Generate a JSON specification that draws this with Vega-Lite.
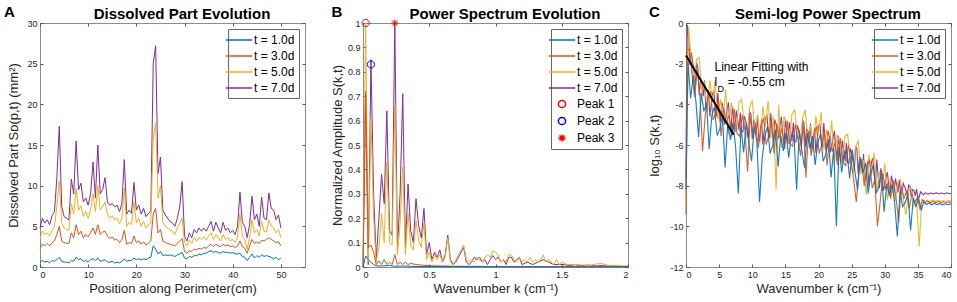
{
"$schema": "https://vega.github.io/schema/vega-lite/v6.json",
"background": "white",
"padding": {"left": 3, "top": 4, "right": 5, "bottom": 3},
"config": {
 "font": "Liberation Sans",
 "view": {"stroke": "#8c8c8c", "strokeWidth": 1},
 "axis": {"grid": false, "domain": false, "ticks": true, "tickSize": -3, "tickColor": "#555", "labelFontSize": 9, "labelColor": "#262626", "labelPadding": 6, "titleFontSize": 13, "titleFontWeight": "normal", "titleColor": "#262626", "labelFont": "Liberation Sans", "titleFont": "Liberation Sans", "labelExpr": "'' + datum.value"},
 "legend": {"title": null, "orient": "top-right", "offset": 6, "fillColor": "white", "strokeColor": "#666", "padding": 4, "labelFontSize": 12, "labelColor": "#000", "labelFont": "Liberation Sans", "symbolType": "M-2.2,0H2.2", "symbolSize": 144, "symbolStrokeWidth": 1.5, "labelOffset": 8, "rowPadding": 3},
 "title": {"fontSize": 15, "fontWeight": "bold", "color": "#000", "font": "Liberation Sans"}
},
"datasets": {
"A": [
{"s":7,"x":0,"y":4.8},{"s":7,"x":0.5,"y":6.0},{"s":7,"x":1,"y":5.4},{"s":7,"x":1.5,"y":5.8},{"s":7,"x":2,"y":5.2},{"s":7,"x":2.5,"y":6.3},{"s":7,"x":3,"y":6.8},{"s":7,"x":3.5,"y":11},{"s":7,"x":4,"y":17.3},{"s":7,"x":4.5,"y":7.5},
{"s":7,"x":5,"y":6.2},{"s":7,"x":5.5,"y":6.0},{"s":7,"x":6,"y":5.8},{"s":7,"x":6.5,"y":10.8},{"s":7,"x":7,"y":9.0},{"s":7,"x":7.5,"y":15.5},{"s":7,"x":8,"y":9.5},{"s":7,"x":8.5,"y":10.3},{"s":7,"x":9,"y":8.0},{"s":7,"x":9.5,"y":8.5},
{"s":7,"x":10,"y":7.6},{"s":7,"x":10.5,"y":9.0},{"s":7,"x":11,"y":12.9},{"s":7,"x":11.5,"y":8.5},{"s":7,"x":12,"y":15.0},{"s":7,"x":12.5,"y":9.0},{"s":7,"x":13,"y":9.5},{"s":7,"x":13.5,"y":11.0},{"s":7,"x":14,"y":8.0},{"s":7,"x":14.5,"y":7.6},
{"s":7,"x":15,"y":7.8},{"s":7,"x":15.5,"y":7.4},{"s":7,"x":16,"y":7.6},{"s":7,"x":16.5,"y":6.8},{"s":7,"x":17,"y":7.8},{"s":7,"x":17.5,"y":13.2},{"s":7,"x":18,"y":6.5},{"s":7,"x":18.5,"y":7.0},{"s":7,"x":19,"y":6.6},{"s":7,"x":19.5,"y":10.4},
{"s":7,"x":20,"y":7.0},{"s":7,"x":20.5,"y":7.6},{"s":7,"x":21,"y":6.5},{"s":7,"x":21.5,"y":7.2},{"s":7,"x":22,"y":6.2},{"s":7,"x":22.5,"y":6.6},{"s":7,"x":23,"y":6.8},{"s":7,"x":23.5,"y":25.0},{"s":7,"x":24,"y":27.2},{"s":7,"x":24.5,"y":11.5},
{"s":7,"x":25,"y":13.5},{"s":7,"x":25.5,"y":7.0},{"s":7,"x":26,"y":6.4},{"s":7,"x":26.5,"y":6.0},{"s":7,"x":27,"y":5.6},{"s":7,"x":27.5,"y":5.4},{"s":7,"x":28,"y":5.0},{"s":7,"x":28.5,"y":6.0},{"s":7,"x":29,"y":7.4},{"s":7,"x":29.5,"y":10.5},
{"s":7,"x":30,"y":3.8},{"s":7,"x":30.5,"y":3.2},{"s":7,"x":31,"y":4.2},{"s":7,"x":31.5,"y":3.6},{"s":7,"x":32,"y":4.6},{"s":7,"x":32.5,"y":4.2},{"s":7,"x":33,"y":4.8},{"s":7,"x":33.5,"y":4.4},{"s":7,"x":34,"y":4.8},{"s":7,"x":34.5,"y":4.4},
{"s":7,"x":35,"y":5.0},{"s":7,"x":35.5,"y":5.6},{"s":7,"x":36,"y":4.4},{"s":7,"x":36.5,"y":5.5},{"s":7,"x":37,"y":4.8},{"s":7,"x":37.5,"y":4.2},{"s":7,"x":38,"y":5.5},{"s":7,"x":38.5,"y":4.5},{"s":7,"x":39,"y":4.8},{"s":7,"x":39.5,"y":4.2},
{"s":7,"x":40,"y":4.5},{"s":7,"x":40.5,"y":4.0},{"s":7,"x":41,"y":5.0},{"s":7,"x":41.5,"y":9.2},{"s":7,"x":42,"y":5.5},{"s":7,"x":42.5,"y":5.0},{"s":7,"x":43,"y":3.6},{"s":7,"x":43.5,"y":5.2},{"s":7,"x":44,"y":8.7},{"s":7,"x":44.5,"y":5.8},
{"s":7,"x":45,"y":6.5},{"s":7,"x":45.5,"y":5.0},{"s":7,"x":46,"y":8.6},{"s":7,"x":46.5,"y":6.0},{"s":7,"x":47,"y":5.8},{"s":7,"x":47.5,"y":9.1},{"s":7,"x":48,"y":7.2},{"s":7,"x":48.5,"y":7.0},{"s":7,"x":49,"y":5.8},{"s":7,"x":49.5,"y":6.4},{"s":7,"x":50,"y":4.8},
{"s":5,"x":0,"y":3.5},{"s":5,"x":0.5,"y":4.4},{"s":5,"x":1,"y":4.0},{"s":5,"x":1.5,"y":4.2},{"s":5,"x":2,"y":3.8},{"s":5,"x":2.5,"y":4.5},{"s":5,"x":3,"y":5.0},{"s":5,"x":3.5,"y":7.5},{"s":5,"x":4,"y":10.6},{"s":5,"x":4.5,"y":5.5},
{"s":5,"x":5,"y":4.8},{"s":5,"x":5.5,"y":4.6},{"s":5,"x":6,"y":4.5},{"s":5,"x":6.5,"y":7.8},{"s":5,"x":7,"y":6.5},{"s":5,"x":7.5,"y":9.7},{"s":5,"x":8,"y":7.0},{"s":5,"x":8.5,"y":7.5},{"s":5,"x":9,"y":6.2},{"s":5,"x":9.5,"y":6.8},
{"s":5,"x":10,"y":6.0},{"s":5,"x":10.5,"y":7.0},{"s":5,"x":11,"y":9.0},{"s":5,"x":11.5,"y":6.8},{"s":5,"x":12,"y":10.0},{"s":5,"x":12.5,"y":7.0},{"s":5,"x":13,"y":7.4},{"s":5,"x":13.5,"y":8.0},{"s":5,"x":14,"y":6.5},{"s":5,"x":14.5,"y":6.0},
{"s":5,"x":15,"y":6.3},{"s":5,"x":15.5,"y":5.8},{"s":5,"x":16,"y":6.0},{"s":5,"x":16.5,"y":5.3},{"s":5,"x":17,"y":6.0},{"s":5,"x":17.5,"y":9.7},{"s":5,"x":18,"y":5.0},{"s":5,"x":18.5,"y":5.5},{"s":5,"x":19,"y":5.2},{"s":5,"x":19.5,"y":8.0},
{"s":5,"x":20,"y":5.4},{"s":5,"x":20.5,"y":6.0},{"s":5,"x":21,"y":5.0},{"s":5,"x":21.5,"y":5.6},{"s":5,"x":22,"y":4.8},{"s":5,"x":22.5,"y":5.2},{"s":5,"x":23,"y":5.4},{"s":5,"x":23.5,"y":15.8},{"s":5,"x":24,"y":17.7},{"s":5,"x":24.5,"y":8.5},
{"s":5,"x":25,"y":10.0},{"s":5,"x":25.5,"y":5.5},{"s":5,"x":26,"y":5.0},{"s":5,"x":26.5,"y":4.8},{"s":5,"x":27,"y":4.5},{"s":5,"x":27.5,"y":4.4},{"s":5,"x":28,"y":4.0},{"s":5,"x":28.5,"y":4.8},{"s":5,"x":29,"y":5.4},{"s":5,"x":29.5,"y":6.0},
{"s":5,"x":30,"y":3.0},{"s":5,"x":30.5,"y":2.6},{"s":5,"x":31,"y":3.3},{"s":5,"x":31.5,"y":2.9},{"s":5,"x":32,"y":3.6},{"s":5,"x":32.5,"y":3.2},{"s":5,"x":33,"y":3.6},{"s":5,"x":33.5,"y":3.4},{"s":5,"x":34,"y":3.7},{"s":5,"x":34.5,"y":3.3},
{"s":5,"x":35,"y":3.8},{"s":5,"x":35.5,"y":4.2},{"s":5,"x":36,"y":3.4},{"s":5,"x":36.5,"y":4.0},{"s":5,"x":37,"y":3.6},{"s":5,"x":37.5,"y":3.2},{"s":5,"x":38,"y":4.0},{"s":5,"x":38.5,"y":3.4},{"s":5,"x":39,"y":3.6},{"s":5,"x":39.5,"y":3.2},
{"s":5,"x":40,"y":3.4},{"s":5,"x":40.5,"y":3.0},{"s":5,"x":41,"y":3.6},{"s":5,"x":41.5,"y":6.5},{"s":5,"x":42,"y":3.8},{"s":5,"x":42.5,"y":3.4},{"s":5,"x":43,"y":2.2},{"s":5,"x":43.5,"y":3.6},{"s":5,"x":44,"y":5.8},{"s":5,"x":44.5,"y":4.2},
{"s":5,"x":45,"y":4.6},{"s":5,"x":45.5,"y":3.8},{"s":5,"x":46,"y":5.6},{"s":5,"x":46.5,"y":4.4},{"s":5,"x":47,"y":4.3},{"s":5,"x":47.5,"y":5.8},{"s":5,"x":48,"y":5.0},{"s":5,"x":48.5,"y":4.8},{"s":5,"x":49,"y":4.2},{"s":5,"x":49.5,"y":4.6},{"s":5,"x":50,"y":3.6},
{"s":3,"x":0,"y":2.3},{"s":3,"x":0.5,"y":2.8},{"s":3,"x":1,"y":2.6},{"s":3,"x":1.5,"y":2.9},{"s":3,"x":2,"y":2.6},{"s":3,"x":2.5,"y":3.0},{"s":3,"x":3,"y":3.2},{"s":3,"x":3.5,"y":4.0},{"s":3,"x":4,"y":5.0},{"s":3,"x":4.5,"y":3.2},
{"s":3,"x":5,"y":3.0},{"s":3,"x":5.5,"y":2.9},{"s":3,"x":6,"y":2.9},{"s":3,"x":6.5,"y":4.2},{"s":3,"x":7,"y":3.6},{"s":3,"x":7.5,"y":5.2},{"s":3,"x":8,"y":4.0},{"s":3,"x":8.5,"y":4.4},{"s":3,"x":9,"y":3.6},{"s":3,"x":9.5,"y":4.0},
{"s":3,"x":10,"y":3.7},{"s":3,"x":10.5,"y":4.2},{"s":3,"x":11,"y":4.8},{"s":3,"x":11.5,"y":4.0},{"s":3,"x":12,"y":5.2},{"s":3,"x":12.5,"y":4.0},{"s":3,"x":13,"y":4.3},{"s":3,"x":13.5,"y":4.4},{"s":3,"x":14,"y":3.8},{"s":3,"x":14.5,"y":3.5},
{"s":3,"x":15,"y":3.7},{"s":3,"x":15.5,"y":3.3},{"s":3,"x":16,"y":3.4},{"s":3,"x":16.5,"y":3.0},{"s":3,"x":17,"y":3.4},{"s":3,"x":17.5,"y":4.5},{"s":3,"x":18,"y":2.8},{"s":3,"x":18.5,"y":3.0},{"s":3,"x":19,"y":2.9},{"s":3,"x":19.5,"y":3.8},
{"s":3,"x":20,"y":3.0},{"s":3,"x":20.5,"y":3.2},{"s":3,"x":21,"y":2.8},{"s":3,"x":21.5,"y":3.1},{"s":3,"x":22,"y":2.7},{"s":3,"x":22.5,"y":2.9},{"s":3,"x":23,"y":3.2},{"s":3,"x":23.5,"y":6.5},{"s":3,"x":24,"y":7.2},{"s":3,"x":24.5,"y":4.2},
{"s":3,"x":25,"y":4.6},{"s":3,"x":25.5,"y":3.2},{"s":3,"x":26,"y":3.0},{"s":3,"x":26.5,"y":2.9},{"s":3,"x":27,"y":2.8},{"s":3,"x":27.5,"y":2.7},{"s":3,"x":28,"y":2.6},{"s":3,"x":28.5,"y":2.9},{"s":3,"x":29,"y":3.2},{"s":3,"x":29.5,"y":3.5},
{"s":3,"x":30,"y":1.9},{"s":3,"x":30.5,"y":1.7},{"s":3,"x":31,"y":2.0},{"s":3,"x":31.5,"y":1.9},{"s":3,"x":32,"y":2.2},{"s":3,"x":32.5,"y":2.1},{"s":3,"x":33,"y":2.3},{"s":3,"x":33.5,"y":2.2},{"s":3,"x":34,"y":2.4},{"s":3,"x":34.5,"y":2.3},
{"s":3,"x":35,"y":2.6},{"s":3,"x":35.5,"y":2.8},{"s":3,"x":36,"y":2.5},{"s":3,"x":36.5,"y":2.8},{"s":3,"x":37,"y":2.6},{"s":3,"x":37.5,"y":2.5},{"s":3,"x":38,"y":2.8},{"s":3,"x":38.5,"y":2.6},{"s":3,"x":39,"y":2.7},{"s":3,"x":39.5,"y":2.5},
{"s":3,"x":40,"y":2.6},{"s":3,"x":40.5,"y":2.4},{"s":3,"x":41,"y":2.6},{"s":3,"x":41.5,"y":3.2},{"s":3,"x":42,"y":2.5},{"s":3,"x":42.5,"y":2.3},{"s":3,"x":43,"y":1.7},{"s":3,"x":43.5,"y":2.6},{"s":3,"x":44,"y":3.4},{"s":3,"x":44.5,"y":2.9},
{"s":3,"x":45,"y":3.1},{"s":3,"x":45.5,"y":2.9},{"s":3,"x":46,"y":3.3},{"s":3,"x":46.5,"y":3.2},{"s":3,"x":47,"y":3.4},{"s":3,"x":47.5,"y":3.6},{"s":3,"x":48,"y":3.4},{"s":3,"x":48.5,"y":3.2},{"s":3,"x":49,"y":3.0},{"s":3,"x":49.5,"y":3.1},{"s":3,"x":50,"y":2.6},
{"s":1,"x":0,"y":0.6},{"s":1,"x":0.5,"y":0.8},{"s":1,"x":1,"y":0.6},{"s":1,"x":1.5,"y":0.7},{"s":1,"x":2,"y":0.5},{"s":1,"x":2.5,"y":0.8},{"s":1,"x":3,"y":0.7},{"s":1,"x":3.5,"y":0.9},{"s":1,"x":4,"y":1.2},{"s":1,"x":4.5,"y":0.7},
{"s":1,"x":5,"y":0.6},{"s":1,"x":5.5,"y":0.6},{"s":1,"x":6,"y":0.5},{"s":1,"x":6.5,"y":0.8},{"s":1,"x":7,"y":0.7},{"s":1,"x":7.5,"y":1.2},{"s":1,"x":8,"y":0.9},{"s":1,"x":8.5,"y":1.0},{"s":1,"x":9,"y":0.7},{"s":1,"x":9.5,"y":0.8},
{"s":1,"x":10,"y":0.6},{"s":1,"x":10.5,"y":0.9},{"s":1,"x":11,"y":1.0},{"s":1,"x":11.5,"y":0.8},{"s":1,"x":12,"y":1.1},{"s":1,"x":12.5,"y":0.7},{"s":1,"x":13,"y":0.8},{"s":1,"x":13.5,"y":0.9},{"s":1,"x":14,"y":0.6},{"s":1,"x":14.5,"y":0.6},
{"s":1,"x":15,"y":0.7},{"s":1,"x":15.5,"y":0.5},{"s":1,"x":16,"y":0.6},{"s":1,"x":16.5,"y":0.5},{"s":1,"x":17,"y":0.7},{"s":1,"x":17.5,"y":1.0},{"s":1,"x":18,"y":0.7},{"s":1,"x":18.5,"y":0.8},{"s":1,"x":19,"y":0.8},{"s":1,"x":19.5,"y":1.1},
{"s":1,"x":20,"y":0.9},{"s":1,"x":20.5,"y":1.0},{"s":1,"x":21,"y":0.9},{"s":1,"x":21.5,"y":1.0},{"s":1,"x":22,"y":0.9},{"s":1,"x":22.5,"y":1.1},{"s":1,"x":23,"y":1.2},{"s":1,"x":23.5,"y":2.6},{"s":1,"x":24,"y":2.2},{"s":1,"x":24.5,"y":1.6},
{"s":1,"x":25,"y":1.9},{"s":1,"x":25.5,"y":1.4},{"s":1,"x":26,"y":1.5},{"s":1,"x":26.5,"y":1.4},{"s":1,"x":27,"y":1.5},{"s":1,"x":27.5,"y":1.4},{"s":1,"x":28,"y":1.3},{"s":1,"x":28.5,"y":1.5},{"s":1,"x":29,"y":1.6},{"s":1,"x":29.5,"y":1.8},
{"s":1,"x":30,"y":1.1},{"s":1,"x":30.5,"y":1.0},{"s":1,"x":31,"y":1.3},{"s":1,"x":31.5,"y":1.2},{"s":1,"x":32,"y":1.4},{"s":1,"x":32.5,"y":1.4},{"s":1,"x":33,"y":1.6},{"s":1,"x":33.5,"y":1.5},{"s":1,"x":34,"y":1.7},{"s":1,"x":34.5,"y":1.7},
{"s":1,"x":35,"y":1.9},{"s":1,"x":35.5,"y":2.0},{"s":1,"x":36,"y":1.8},{"s":1,"x":36.5,"y":1.9},{"s":1,"x":37,"y":1.8},{"s":1,"x":37.5,"y":1.7},{"s":1,"x":38,"y":1.9},{"s":1,"x":38.5,"y":1.8},{"s":1,"x":39,"y":1.8},{"s":1,"x":39.5,"y":1.7},
{"s":1,"x":40,"y":1.8},{"s":1,"x":40.5,"y":1.6},{"s":1,"x":41,"y":1.6},{"s":1,"x":41.5,"y":1.7},{"s":1,"x":42,"y":1.3},{"s":1,"x":42.5,"y":1.2},{"s":1,"x":43,"y":0.8},{"s":1,"x":43.5,"y":1.2},{"s":1,"x":44,"y":1.6},{"s":1,"x":44.5,"y":1.1},
{"s":1,"x":45,"y":1.4},{"s":1,"x":45.5,"y":1.2},{"s":1,"x":46,"y":1.5},{"s":1,"x":46.5,"y":1.3},{"s":1,"x":47,"y":1.4},{"s":1,"x":47.5,"y":1.3},{"s":1,"x":48,"y":1.2},{"s":1,"x":48.5,"y":1.0},{"s":1,"x":49,"y":1.2},{"s":1,"x":49.5,"y":0.9},{"s":1,"x":50,"y":1.1}
],
"B": [
{"s":7,"k":0,"v":0},{"s":7,"k":0.02,"v":0.72},{"s":7,"k":0.04,"v":0.01},{"s":7,"k":0.06,"v":0.85},{"s":7,"k":0.08,"v":0.30},{"s":7,"k":0.10,"v":0.03},{"s":7,"k":0.12,"v":0.20},{"s":7,"k":0.14,"v":0.38},{"s":7,"k":0.16,"v":0.26},{"s":7,"k":0.18,"v":0.64},
{"s":7,"k":0.20,"v":0.15},{"s":7,"k":0.22,"v":0.13},{"s":7,"k":0.24,"v":1.0},{"s":7,"k":0.26,"v":0.07},{"s":7,"k":0.28,"v":0.30},{"s":7,"k":0.30,"v":0.71},{"s":7,"k":0.32,"v":0.08},{"s":7,"k":0.34,"v":0.34},{"s":7,"k":0.36,"v":0.15},{"s":7,"k":0.38,"v":0.10},
{"s":7,"k":0.40,"v":0.28},{"s":7,"k":0.42,"v":0.17},{"s":7,"k":0.44,"v":0.12},{"s":7,"k":0.46,"v":0.24},{"s":7,"k":0.48,"v":0.05},{"s":7,"k":0.50,"v":0.10},{"s":7,"k":0.52,"v":0.03},{"s":7,"k":0.54,"v":0.06},{"s":7,"k":0.56,"v":0.04},{"s":7,"k":0.58,"v":0.07},
{"s":7,"k":0.60,"v":0.02},{"s":7,"k":0.62,"v":0.05},{"s":7,"k":0.64,"v":0.13},{"s":7,"k":0.66,"v":0.03},{"s":7,"k":0.68,"v":0.01},{"s":7,"k":0.70,"v":0.02},{"s":7,"k":0.72,"v":0.04},{"s":7,"k":0.74,"v":0.06},{"s":7,"k":0.76,"v":0.08},{"s":7,"k":0.78,"v":0.02},
{"s":7,"k":0.80,"v":0.01},{"s":7,"k":0.82,"v":0.02},{"s":7,"k":0.84,"v":0.04},{"s":7,"k":0.86,"v":0.03},{"s":7,"k":0.88,"v":0.04},{"s":7,"k":0.90,"v":0.02},{"s":7,"k":0.92,"v":0.03},{"s":7,"k":0.94,"v":0.01},{"s":7,"k":0.96,"v":0.03},{"s":7,"k":0.98,"v":0.047},
{"s":7,"k":1.00,"v":0.03},{"s":7,"k":1.02,"v":0.04},{"s":7,"k":1.04,"v":0.02},{"s":7,"k":1.06,"v":0.03},{"s":7,"k":1.08,"v":0.01},{"s":7,"k":1.10,"v":0.04},{"s":7,"k":1.12,"v":0.04},{"s":7,"k":1.14,"v":0.02},{"s":7,"k":1.16,"v":0.03},{"s":7,"k":1.18,"v":0.04},
{"s":7,"k":1.20,"v":0.01},{"s":7,"k":1.24,"v":0.02},{"s":7,"k":1.28,"v":0.01},{"s":7,"k":1.32,"v":0.02},{"s":7,"k":1.36,"v":0.03},{"s":7,"k":1.40,"v":0.02},{"s":7,"k":1.44,"v":0.01},{"s":7,"k":1.48,"v":0.01},{"s":7,"k":1.52,"v":0.01},{"s":7,"k":1.56,"v":0.005},
{"s":7,"k":1.60,"v":0.01},{"s":7,"k":1.64,"v":0.005},{"s":7,"k":1.70,"v":0.008},{"s":7,"k":1.76,"v":0.004},{"s":7,"k":1.80,"v":0.006},{"s":7,"k":1.86,"v":0.003},{"s":7,"k":1.90,"v":0.004},{"s":7,"k":1.96,"v":0.002},{"s":7,"k":2.0,"v":0.003},
{"s":5,"k":0,"v":0},{"s":5,"k":0.02,"v":1.0},{"s":5,"k":0.04,"v":0.02},{"s":5,"k":0.06,"v":0.61},{"s":5,"k":0.08,"v":0.20},{"s":5,"k":0.10,"v":0.02},{"s":5,"k":0.12,"v":0.08},{"s":5,"k":0.14,"v":0.22},{"s":5,"k":0.16,"v":0.10},{"s":5,"k":0.18,"v":0.43},
{"s":5,"k":0.20,"v":0.10},{"s":5,"k":0.22,"v":0.09},{"s":5,"k":0.24,"v":0.66},{"s":5,"k":0.26,"v":0.05},{"s":5,"k":0.28,"v":0.18},{"s":5,"k":0.30,"v":0.41},{"s":5,"k":0.32,"v":0.05},{"s":5,"k":0.34,"v":0.22},{"s":5,"k":0.36,"v":0.09},{"s":5,"k":0.38,"v":0.07},
{"s":5,"k":0.40,"v":0.19},{"s":5,"k":0.42,"v":0.11},{"s":5,"k":0.44,"v":0.08},{"s":5,"k":0.46,"v":0.18},{"s":5,"k":0.48,"v":0.03},{"s":5,"k":0.50,"v":0.06},{"s":5,"k":0.52,"v":0.02},{"s":5,"k":0.54,"v":0.05},{"s":5,"k":0.56,"v":0.03},{"s":5,"k":0.58,"v":0.05},
{"s":5,"k":0.60,"v":0.02},{"s":5,"k":0.62,"v":0.04},{"s":5,"k":0.64,"v":0.12},{"s":5,"k":0.66,"v":0.02},{"s":5,"k":0.68,"v":0.01},{"s":5,"k":0.70,"v":0.03},{"s":5,"k":0.72,"v":0.05},{"s":5,"k":0.74,"v":0.07},{"s":5,"k":0.76,"v":0.09},{"s":5,"k":0.78,"v":0.03},
{"s":5,"k":0.80,"v":0.02},{"s":5,"k":0.82,"v":0.03},{"s":5,"k":0.84,"v":0.02},{"s":5,"k":0.86,"v":0.04},{"s":5,"k":0.88,"v":0.03},{"s":5,"k":0.90,"v":0.02},{"s":5,"k":0.92,"v":0.04},{"s":5,"k":0.94,"v":0.05},{"s":5,"k":0.96,"v":0.04},{"s":5,"k":0.98,"v":0.067},
{"s":5,"k":1.00,"v":0.06},{"s":5,"k":1.02,"v":0.05},{"s":5,"k":1.04,"v":0.02},{"s":5,"k":1.06,"v":0.03},{"s":5,"k":1.08,"v":0.02},{"s":5,"k":1.10,"v":0.05},{"s":5,"k":1.12,"v":0.05},{"s":5,"k":1.14,"v":0.03},{"s":5,"k":1.16,"v":0.02},{"s":5,"k":1.18,"v":0.04},
{"s":5,"k":1.20,"v":0.02},{"s":5,"k":1.22,"v":0.03},{"s":5,"k":1.24,"v":0.02},{"s":5,"k":1.26,"v":0.04},{"s":5,"k":1.28,"v":0.02},{"s":5,"k":1.30,"v":0.03},{"s":5,"k":1.32,"v":0.02},{"s":5,"k":1.34,"v":0.03},{"s":5,"k":1.36,"v":0.05},{"s":5,"k":1.38,"v":0.02},
{"s":5,"k":1.40,"v":0.03},{"s":5,"k":1.42,"v":0.02},{"s":5,"k":1.44,"v":0.01},{"s":5,"k":1.46,"v":0.03},{"s":5,"k":1.48,"v":0.01},{"s":5,"k":1.50,"v":0.02},{"s":5,"k":1.54,"v":0.01},{"s":5,"k":1.60,"v":0.01},{"s":5,"k":1.66,"v":0.008},{"s":5,"k":1.70,"v":0.005},
{"s":5,"k":1.76,"v":0.012},{"s":5,"k":1.80,"v":0.015},{"s":5,"k":1.84,"v":0.008},{"s":5,"k":1.90,"v":0.005},{"s":5,"k":1.96,"v":0.004},{"s":5,"k":2.0,"v":0.003},
{"s":3,"k":0,"v":0},{"s":3,"k":0.02,"v":0.71},{"s":3,"k":0.04,"v":0.08},{"s":3,"k":0.06,"v":0.09},{"s":3,"k":0.08,"v":0.06},{"s":3,"k":0.10,"v":0.01},{"s":3,"k":0.12,"v":0.025},{"s":3,"k":0.14,"v":0.01},{"s":3,"k":0.16,"v":0.03},{"s":3,"k":0.18,"v":0.01},
{"s":3,"k":0.20,"v":0.02},{"s":3,"k":0.22,"v":0.01},{"s":3,"k":0.24,"v":0.05},{"s":3,"k":0.26,"v":0.01},{"s":3,"k":0.28,"v":0.02},{"s":3,"k":0.30,"v":0.01},{"s":3,"k":0.32,"v":0.02},{"s":3,"k":0.34,"v":0.01},{"s":3,"k":0.36,"v":0.015},{"s":3,"k":0.40,"v":0.01},
{"s":3,"k":0.44,"v":0.008},{"s":3,"k":0.50,"v":0.005},{"s":3,"k":0.60,"v":0.004},{"s":3,"k":0.70,"v":0.003},{"s":3,"k":0.80,"v":0.003},{"s":3,"k":1.0,"v":0.002},{"s":3,"k":1.2,"v":0.002},{"s":3,"k":1.5,"v":0.001},{"s":3,"k":2.0,"v":0.001},
{"s":1,"k":0,"v":0},{"s":1,"k":0.02,"v":0.045},{"s":1,"k":0.04,"v":0.03},{"s":1,"k":0.06,"v":0.02},{"s":1,"k":0.08,"v":0.01},{"s":1,"k":0.10,"v":0.005},{"s":1,"k":0.14,"v":0.004},{"s":1,"k":0.20,"v":0.006},{"s":1,"k":0.24,"v":0.003},{"s":1,"k":0.30,"v":0.004},
{"s":1,"k":0.40,"v":0.002},{"s":1,"k":0.50,"v":0.002},{"s":1,"k":1.0,"v":0.001},{"s":1,"k":2.0,"v":0.001}
],
"P": [
{"s":"Peak 1","k":0.02,"v":1.0},{"s":"Peak 2","k":0.06,"v":0.83},{"s":"Peak 3","k":0.24,"v":1.0}
],
"C": [
{"s":7,"k":0,"v":-7.6},{"s":7,"k":0.2,"v":-0.1},{"s":7,"k":0.6,"v":-2.0},{"s":7,"k":1.0,"v":-1.9},{"s":7,"k":1.4,"v":-3.1},{"s":7,"k":1.8,"v":-2.2},{"s":7,"k":2.2,"v":-2.8},{"s":7,"k":2.6,"v":-3.6},{"s":7,"k":3.0,"v":-4.25},{"s":7,"k":3.4,"v":-3.3},
{"s":7,"k":3.8,"v":-4.0},{"s":7,"k":4.2,"v":-3.35},{"s":7,"k":4.6,"v":-4.6},{"s":7,"k":5.0,"v":-4.3},{"s":7,"k":5.4,"v":-3.9},{"s":7,"k":5.8,"v":-5.0},{"s":7,"k":6.2,"v":-4.25},{"s":7,"k":6.6,"v":-4.85},{"s":7,"k":7.0,"v":-4.1},{"s":7,"k":7.4,"v":-5.35},
{"s":7,"k":7.8,"v":-4.75},{"s":7,"k":8.2,"v":-4.4},{"s":7,"k":8.6,"v":-5.35},{"s":7,"k":9.0,"v":-4.8},{"s":7,"k":9.4,"v":-5.65},{"s":7,"k":9.8,"v":-4.5},{"s":7,"k":10.2,"v":-4.8},{"s":7,"k":10.6,"v":-5.45},{"s":7,"k":11.0,"v":-5.85},{"s":7,"k":11.4,"v":-4.75},
{"s":7,"k":11.8,"v":-5.3},{"s":7,"k":12.2,"v":-4.5},{"s":7,"k":12.6,"v":-5.65},{"s":7,"k":13.0,"v":-5.25},{"s":7,"k":13.4,"v":-4.75},{"s":7,"k":13.8,"v":-5.8},{"s":7,"k":14.2,"v":-5.0},{"s":7,"k":14.6,"v":-5.55},{"s":7,"k":15.0,"v":-4.75},{"s":7,"k":15.4,"v":-5.95},
{"s":7,"k":15.8,"v":-5.3},{"s":7,"k":16.2,"v":-4.9},{"s":7,"k":16.6,"v":-5.85},{"s":7,"k":17.0,"v":-5.25},{"s":7,"k":17.4,"v":-6.05},{"s":7,"k":17.8,"v":-4.9},{"s":7,"k":18.2,"v":-5.2},{"s":7,"k":18.6,"v":-5.85},{"s":7,"k":19.0,"v":-6.25},{"s":7,"k":19.4,"v":-5.15},
{"s":7,"k":19.8,"v":-5.7},{"s":7,"k":20.2,"v":-4.95},{"s":7,"k":20.6,"v":-6.1},{"s":7,"k":21.0,"v":-5.75},{"s":7,"k":21.4,"v":-5.3},{"s":7,"k":21.8,"v":-6.35},{"s":7,"k":22.2,"v":-5.65},{"s":7,"k":22.6,"v":-6.25},{"s":7,"k":23.0,"v":-5.55},{"s":7,"k":23.4,"v":-6.85},
{"s":7,"k":23.8,"v":-6.25},{"s":7,"k":24.2,"v":-5.9},{"s":7,"k":24.6,"v":-6.9},{"s":7,"k":25.0,"v":-6.4},{"s":7,"k":25.4,"v":-7.3},{"s":7,"k":25.8,"v":-6.2},{"s":7,"k":26.2,"v":-6.6},{"s":7,"k":26.6,"v":-7.3},{"s":7,"k":27.0,"v":-7.8},{"s":7,"k":27.4,"v":-6.8},
{"s":7,"k":27.8,"v":-7.4},{"s":7,"k":28.2,"v":-6.65},{"s":7,"k":28.6,"v":-7.85},{"s":7,"k":29.0,"v":-7.55},{"s":7,"k":29.4,"v":-7.15},{"s":7,"k":29.8,"v":-8.25},{"s":7,"k":30.2,"v":-7.6},{"s":7,"k":30.6,"v":-8.0},{"s":7,"k":31.0,"v":-7.5},{"s":7,"k":31.4,"v":-8.4},
{"s":7,"k":31.8,"v":-7.95},{"s":7,"k":32.2,"v":-7.7},{"s":7,"k":32.6,"v":-8.4},{"s":7,"k":33.0,"v":-8.05},{"s":7,"k":33.4,"v":-8.45},{"s":7,"k":33.8,"v":-8.03},{"s":7,"k":34.2,"v":-8.2},{"s":7,"k":34.6,"v":-8.5},{"s":7,"k":35.0,"v":-8.6},{"s":7,"k":35.4,"v":-8.3},
{"s":7,"k":35.8,"v":-8.45},{"s":7,"k":36.2,"v":-8.35},{"s":7,"k":36.6,"v":-8.42},{"s":7,"k":37.0,"v":-8.36},{"s":7,"k":37.4,"v":-8.4},{"s":7,"k":37.8,"v":-8.34},{"s":7,"k":38.2,"v":-8.4},{"s":7,"k":38.6,"v":-8.36},{"s":7,"k":39.0,"v":-8.41},{"s":7,"k":39.4,"v":-8.35},{"s":7,"k":39.8,"v":-8.4},{"s":7,"k":40,"v":-8.38},
{"s":7,"k":0.4,"v":-0.7},{"s":7,"k":0.8,"v":-1.45},{"s":7,"k":1.2,"v":-2.4},{"s":7,"k":1.6,"v":-1.95},{"s":7,"k":2.0,"v":-3.55},{"s":7,"k":2.4,"v":-3.0},{"s":7,"k":2.8,"v":-2.83},{"s":7,"k":3.2,"v":-3.93},{"s":7,"k":3.6,"v":-4.6},{"s":7,"k":4.0,"v":-3.48},
{"s":7,"k":4.4,"v":-4.13},{"s":7,"k":4.8,"v":-3.45},{"s":7,"k":5.2,"v":-4.85},{"s":7,"k":5.6,"v":-4.15},{"s":7,"k":6.0,"v":-4.73},{"s":7,"k":6.4,"v":-3.9},{"s":7,"k":6.8,"v":-5.38},{"s":7,"k":7.2,"v":-4.63},{"s":7,"k":7.6,"v":-4.3},{"s":7,"k":8.0,"v":-5.28},
{"s":7,"k":8.4,"v":-5.33},{"s":7,"k":8.8,"v":-4.58},{"s":7,"k":9.2,"v":-5.13},{"s":7,"k":9.6,"v":-4.38},{"s":7,"k":10.0,"v":-5.7},{"s":7,"k":10.4,"v":-4.92},{"s":7,"k":10.8,"v":-4.54},{"s":7,"k":11.2,"v":-5.46},{"s":7,"k":11.6,"v":-5.98},{"s":7,"k":12.0,"v":-4.7},
{"s":7,"k":12.4,"v":-5.22},{"s":7,"k":12.8,"v":-4.44},{"s":7,"k":13.2,"v":-5.76},{"s":7,"k":13.6,"v":-4.98},{"s":7,"k":14.0,"v":-5.5},{"s":7,"k":14.4,"v":-4.62},{"s":7,"k":14.8,"v":-6.04},{"s":7,"k":15.2,"v":-5.26},{"s":7,"k":15.6,"v":-4.88},{"s":7,"k":16.0,"v":-5.8},
{"s":7,"k":16.4,"v":-5.82},{"s":7,"k":16.8,"v":-5.04},{"s":7,"k":17.2,"v":-5.56},{"s":7,"k":17.6,"v":-4.78},{"s":7,"k":18.0,"v":-6.1},{"s":7,"k":18.4,"v":-5.32},{"s":7,"k":18.8,"v":-4.94},{"s":7,"k":19.2,"v":-5.86},{"s":7,"k":19.6,"v":-6.38},{"s":7,"k":20.0,"v":-5.11},
{"s":7,"k":20.4,"v":-5.66},{"s":7,"k":20.8,"v":-4.92},{"s":7,"k":21.2,"v":-6.28},{"s":7,"k":21.6,"v":-5.54},{"s":7,"k":22.0,"v":-6.11},{"s":7,"k":22.4,"v":-5.3},{"s":7,"k":22.8,"v":-6.79},{"s":7,"k":23.2,"v":-6.09},{"s":7,"k":23.6,"v":-5.78},{"s":7,"k":24.0,"v":-6.78},
{"s":7,"k":24.4,"v":-6.87},{"s":7,"k":24.8,"v":-6.17},{"s":7,"k":25.2,"v":-6.76},{"s":7,"k":25.6,"v":-6.06},{"s":7,"k":26.0,"v":-7.45},{"s":7,"k":26.4,"v":-6.75},{"s":7,"k":26.8,"v":-6.44},{"s":7,"k":27.2,"v":-7.44},{"s":7,"k":27.6,"v":-8.03},{"s":7,"k":28.0,"v":-6.83},
{"s":7,"k":28.4,"v":-7.42},{"s":7,"k":28.8,"v":-6.72},{"s":7,"k":29.2,"v":-8.11},{"s":7,"k":29.6,"v":-7.41},{"s":7,"k":30.0,"v":-7.99},{"s":7,"k":30.4,"v":-7.34},{"s":7,"k":30.8,"v":-8.37},{"s":7,"k":31.2,"v":-7.87},{"s":7,"k":31.6,"v":-7.65},{"s":7,"k":32.0,"v":-8.33},
{"s":7,"k":32.4,"v":-8.39},{"s":7,"k":32.8,"v":-7.89},{"s":7,"k":33.2,"v":-8.25},{"s":7,"k":33.6,"v":-7.97},{"s":7,"k":34.0,"v":-8.54},{"s":7,"k":34.4,"v":-8.22},{"s":7,"k":34.8,"v":-8.17},{"s":7,"k":35.2,"v":-8.56},{"s":7,"k":35.6,"v":-8.36},{"s":7,"k":36.0,"v":-8.38},
{"s":7,"k":36.4,"v":-8.41},{"s":7,"k":36.8,"v":-8.37},{"s":7,"k":37.2,"v":-8.39},{"s":7,"k":37.6,"v":-8.37},{"s":7,"k":38.0,"v":-8.4},{"s":7,"k":38.4,"v":-8.37},{"s":7,"k":38.8,"v":-8.39},{"s":7,"k":39.2,"v":-8.37},{"s":7,"k":39.6,"v":-8.39},
{"s":5,"k":0,"v":-8.5},{"s":5,"k":0.4,"v":-0.2},{"s":5,"k":0.8,"v":-1.9},{"s":5,"k":1.2,"v":-2.96},{"s":5,"k":1.6,"v":-1.78},{"s":5,"k":2.0,"v":-1.7},{"s":5,"k":2.4,"v":-3.44},{"s":5,"k":2.8,"v":-2.88},{"s":5,"k":3.2,"v":-4.4},{"s":5,"k":3.6,"v":-2.8},
{"s":5,"k":4.0,"v":-3.9},{"s":5,"k":4.4,"v":-2.82},{"s":5,"k":4.8,"v":-4.74},{"s":5,"k":5.2,"v":-3.74},{"s":5,"k":5.6,"v":-4.62},{"s":5,"k":6.0,"v":-3.3},{"s":5,"k":6.4,"v":-5.46},{"s":5,"k":6.8,"v":-3.92},{"s":5,"k":7.2,"v":-4.28},{"s":5,"k":7.6,"v":-5.34},
{"s":5,"k":8.0,"v":-3.9},{"s":5,"k":8.4,"v":-3.74},{"s":5,"k":8.8,"v":-4.98},{"s":5,"k":9.2,"v":-5.62},{"s":5,"k":9.6,"v":-4.16},{"s":5,"k":10.0,"v":-3.8},{"s":5,"k":10.4,"v":-5.32},{"s":5,"k":10.8,"v":-4.55},{"s":5,"k":11.2,"v":-5.87},{"s":5,"k":11.6,"v":-4.1},
{"s":5,"k":12.0,"v":-5.02},{"s":5,"k":12.4,"v":-3.84},{"s":5,"k":12.8,"v":-5.67},{"s":5,"k":13.2,"v":-4.59},{"s":5,"k":13.6,"v":-8.2},{"s":5,"k":14.0,"v":-4.04},{"s":5,"k":14.4,"v":-6.16},{"s":5,"k":14.8,"v":-4.59},{"s":5,"k":15.2,"v":-4.91},{"s":5,"k":15.6,"v":-5.94},
{"s":5,"k":16.0,"v":-4.46},{"s":5,"k":16.4,"v":-4.28},{"s":5,"k":16.8,"v":-5.51},{"s":5,"k":17.2,"v":-6.13},{"s":5,"k":17.6,"v":-4.66},{"s":5,"k":18.0,"v":-4.28},{"s":5,"k":18.4,"v":-5.8},{"s":5,"k":18.8,"v":-5.03},{"s":5,"k":19.2,"v":-6.35},{"s":5,"k":19.6,"v":-4.58},
{"s":5,"k":20.0,"v":-5.5},{"s":5,"k":20.4,"v":-4.38},{"s":5,"k":20.8,"v":-6.26},{"s":5,"k":21.2,"v":-5.24},{"s":5,"k":21.6,"v":-6.12},{"s":5,"k":22.0,"v":-4.8},{"s":5,"k":22.4,"v":-6.99},{"s":5,"k":22.8,"v":-5.49},{"s":5,"k":23.2,"v":-5.88},{"s":5,"k":23.6,"v":-6.97},
{"s":5,"k":24.0,"v":-5.57},{"s":5,"k":24.4,"v":-5.46},{"s":5,"k":24.8,"v":-6.75},{"s":5,"k":25.2,"v":-7.46},{"s":5,"k":25.6,"v":-6.08},{"s":5,"k":26.0,"v":-5.8},{"s":5,"k":26.4,"v":-7.42},{"s":5,"k":26.8,"v":-6.74},{"s":5,"k":27.2,"v":-8.46},{"s":5,"k":27.6,"v":-6.48},
{"s":5,"k":28.0,"v":-7.5},{"s":5,"k":28.4,"v":-6.4},{"s":5,"k":28.8,"v":-8.3},{"s":5,"k":29.2,"v":-7.3},{"s":5,"k":29.6,"v":-8.2},{"s":5,"k":30.0,"v":-6.9},{"s":5,"k":30.4,"v":-8.72},{"s":5,"k":30.8,"v":-7.68},{"s":5,"k":31.2,"v":-7.97},{"s":5,"k":31.6,"v":-8.75},
{"s":5,"k":32.0,"v":-7.78},{"s":5,"k":32.4,"v":-7.72},{"s":5,"k":32.8,"v":-8.64},{"s":5,"k":33.2,"v":-9.44},{"s":5,"k":33.6,"v":-8.27},{"s":5,"k":34.0,"v":-8.15},{"s":5,"k":34.4,"v":-8.98},{"s":5,"k":34.8,"v":-8.66},{"s":5,"k":35.2,"v":-11.0},{"s":5,"k":35.6,"v":-8.68},
{"s":5,"k":36.0,"v":-8.77},{"s":5,"k":36.4,"v":-8.72},{"s":5,"k":36.8,"v":-8.8},{"s":5,"k":37.2,"v":-8.7},{"s":5,"k":37.6,"v":-8.78},{"s":5,"k":38.0,"v":-8.72},{"s":5,"k":38.4,"v":-8.77},{"s":5,"k":38.8,"v":-8.73},{"s":5,"k":39.2,"v":-8.78},{"s":5,"k":39.6,"v":-8.72},{"s":5,"k":40,"v":-8.75},
{"s":3,"k":0,"v":-9.4},{"s":3,"k":0.1,"v":-1.3},{"s":3,"k":0.5,"v":-1.3},{"s":3,"k":0.9,"v":-2.5},{"s":3,"k":1.3,"v":-3.62},{"s":3,"k":1.7,"v":-2.32},{"s":3,"k":2.1,"v":-3.55},{"s":3,"k":2.5,"v":-6.3},{"s":3,"k":2.9,"v":-4.54},{"s":3,"k":3.3,"v":-3.71},
{"s":3,"k":3.7,"v":-3.36},{"s":3,"k":4.1,"v":-4.77},{"s":3,"k":4.5,"v":-4.41},{"s":3,"k":4.9,"v":-3.86},{"s":3,"k":5.3,"v":-5.57},{"s":3,"k":5.7,"v":-4.17},{"s":3,"k":6.1,"v":-4.96},{"s":3,"k":6.5,"v":-4.52},{"s":3,"k":6.9,"v":-5.58},{"s":3,"k":7.3,"v":-4.25},
{"s":3,"k":7.7,"v":-5.42},{"s":3,"k":8.1,"v":-5.58},{"s":3,"k":8.5,"v":-4.53},{"s":3,"k":8.9,"v":-5.27},{"s":3,"k":9.3,"v":-7.3},{"s":3,"k":9.7,"v":-4.57},{"s":3,"k":10.1,"v":-5.6},{"s":3,"k":10.5,"v":-4.92},{"s":3,"k":10.9,"v":-6.14},{"s":3,"k":11.3,"v":-5.15},
{"s":3,"k":11.7,"v":-4.67},{"s":3,"k":12.1,"v":-5.98},{"s":3,"k":12.5,"v":-5.5},{"s":3,"k":12.9,"v":-4.82},{"s":3,"k":13.3,"v":-6.43},{"s":3,"k":13.7,"v":-4.95},{"s":3,"k":14.1,"v":-5.66},{"s":3,"k":14.5,"v":-5.18},{"s":3,"k":14.9,"v":-6.2},{"s":3,"k":15.3,"v":-4.82},
{"s":3,"k":15.7,"v":-5.94},{"s":3,"k":16.1,"v":-6.07},{"s":3,"k":16.5,"v":-4.99},{"s":3,"k":16.9,"v":-5.71},{"s":3,"k":17.3,"v":-6.54},{"s":3,"k":17.7,"v":-4.96},{"s":3,"k":18.1,"v":-7.6},{"s":3,"k":18.5,"v":-5.31},{"s":3,"k":18.9,"v":-6.53},{"s":3,"k":19.3,"v":-5.56},
{"s":3,"k":19.7,"v":-5.08},{"s":3,"k":20.1,"v":-6.42},{"s":3,"k":20.5,"v":-5.98},{"s":3,"k":20.9,"v":-5.34},{"s":3,"k":21.3,"v":-7.0},{"s":3,"k":21.7,"v":-5.56},{"s":3,"k":22.1,"v":-6.32},{"s":3,"k":22.5,"v":-5.9},{"s":3,"k":22.9,"v":-6.98},{"s":3,"k":23.3,"v":-5.66},
{"s":3,"k":23.7,"v":-6.84},{"s":3,"k":24.1,"v":-7.02},{"s":3,"k":24.5,"v":-6.0},{"s":3,"k":24.9,"v":-6.78},{"s":3,"k":25.3,"v":-7.68},{"s":3,"k":25.7,"v":-8.8},{"s":3,"k":26.1,"v":-7.29},{"s":3,"k":26.5,"v":-6.7},{"s":3,"k":26.9,"v":-8.01},{"s":3,"k":27.3,"v":-7.11},
{"s":3,"k":27.7,"v":-6.72},{"s":3,"k":28.1,"v":-8.13},{"s":3,"k":28.5,"v":-7.73},{"s":3,"k":28.9,"v":-10.0},{"s":3,"k":29.3,"v":-8.83},{"s":3,"k":29.7,"v":-7.43},{"s":3,"k":30.1,"v":-8.13},{"s":3,"k":30.5,"v":-7.86},{"s":3,"k":30.9,"v":-8.64},{"s":3,"k":31.3,"v":-7.74},
{"s":3,"k":31.7,"v":-8.59},{"s":3,"k":32.1,"v":-9.8},{"s":3,"k":32.5,"v":-8.05},{"s":3,"k":32.9,"v":-8.62},{"s":3,"k":33.3,"v":-8.28},{"s":3,"k":33.7,"v":-9.12},{"s":3,"k":34.1,"v":-8.41},{"s":3,"k":34.5,"v":-8.8},{"s":3,"k":34.9,"v":-8.59},{"s":3,"k":35.3,"v":-9.12},
{"s":3,"k":35.7,"v":-8.69},{"s":3,"k":36.1,"v":-8.85},{"s":3,"k":36.5,"v":-8.75},{"s":3,"k":36.9,"v":-8.84},{"s":3,"k":37.3,"v":-8.77},{"s":3,"k":37.7,"v":-8.83},{"s":3,"k":38.1,"v":-8.78},{"s":3,"k":38.5,"v":-8.84},{"s":3,"k":38.9,"v":-8.79},{"s":3,"k":39.3,"v":-8.83},{"s":3,"k":39.7,"v":-8.8},{"s":3,"k":40,"v":-8.81},
{"s":1,"k":0,"v":-8.2},{"s":1,"k":0.3,"v":-1.9},{"s":1,"k":0.7,"v":-3.7},{"s":1,"k":1.1,"v":-2.58},{"s":1,"k":1.5,"v":-3.88},{"s":1,"k":1.9,"v":-5.6},{"s":1,"k":2.3,"v":-3.45},{"s":1,"k":2.7,"v":-4.35},{"s":1,"k":3.1,"v":-3.94},{"s":1,"k":3.5,"v":-6.2},
{"s":1,"k":3.9,"v":-4.53},{"s":1,"k":4.3,"v":-4.13},{"s":1,"k":4.7,"v":-5.53},{"s":1,"k":5.1,"v":-5.22},{"s":1,"k":5.5,"v":-4.52},{"s":1,"k":5.9,"v":-7.1},{"s":1,"k":6.3,"v":-4.98},{"s":1,"k":6.7,"v":-5.75},{"s":1,"k":7.1,"v":-4.91},{"s":1,"k":7.5,"v":-6.15},
{"s":1,"k":7.9,"v":-8.4},{"s":1,"k":8.3,"v":-5.13},{"s":1,"k":8.7,"v":-6.37},{"s":1,"k":9.1,"v":-4.91},{"s":1,"k":9.5,"v":-5.95},{"s":1,"k":9.9,"v":-6.79},{"s":1,"k":10.3,"v":-5.11},{"s":1,"k":10.7,"v":-5.83},{"s":1,"k":11.1,"v":-8.8},{"s":1,"k":11.5,"v":-6.66},
{"s":1,"k":11.9,"v":-5.58},{"s":1,"k":12.3,"v":-5.09},{"s":1,"k":12.7,"v":-6.41},{"s":1,"k":13.1,"v":-6.02},{"s":1,"k":13.5,"v":-5.24},{"s":1,"k":13.9,"v":-7.06},{"s":1,"k":14.3,"v":-5.57},{"s":1,"k":14.7,"v":-6.29},{"s":1,"k":15.1,"v":-5.4},{"s":1,"k":15.5,"v":-6.62},
{"s":1,"k":15.9,"v":-5.54},{"s":1,"k":16.3,"v":-5.55},{"s":1,"k":16.7,"v":-8.2},{"s":1,"k":17.1,"v":-5.28},{"s":1,"k":17.5,"v":-6.3},{"s":1,"k":17.9,"v":-7.12},{"s":1,"k":18.3,"v":-5.43},{"s":1,"k":18.7,"v":-6.15},{"s":1,"k":19.1,"v":-5.56},{"s":1,"k":19.5,"v":-6.98},
{"s":1,"k":19.9,"v":-5.9},{"s":1,"k":20.3,"v":-5.45},{"s":1,"k":20.7,"v":-6.8},{"s":1,"k":21.1,"v":-6.47},{"s":1,"k":21.5,"v":-5.73},{"s":1,"k":21.9,"v":-7.59},{"s":1,"k":22.3,"v":-6.15},{"s":1,"k":22.7,"v":-10.0},{"s":1,"k":23.1,"v":-6.08},{"s":1,"k":23.5,"v":-7.35},
{"s":1,"k":23.9,"v":-6.32},{"s":1,"k":24.3,"v":-6.38},{"s":1,"k":24.7,"v":-7.65},{"s":1,"k":25.1,"v":-6.22},{"s":1,"k":25.5,"v":-7.32},{"s":1,"k":25.9,"v":-8.21},{"s":1,"k":26.3,"v":-6.6},{"s":1,"k":26.7,"v":-7.4},{"s":1,"k":27.1,"v":-6.89},{"s":1,"k":27.5,"v":-8.38},
{"s":1,"k":27.9,"v":-7.38},{"s":1,"k":28.3,"v":-6.98},{"s":1,"k":28.7,"v":-8.38},{"s":1,"k":29.1,"v":-8.08},{"s":1,"k":29.5,"v":-7.38},{"s":1,"k":29.9,"v":-9.28},{"s":1,"k":30.3,"v":-7.92},{"s":1,"k":30.7,"v":-8.49},{"s":1,"k":31.1,"v":-7.94},{"s":1,"k":31.5,"v":-8.86},
{"s":1,"k":31.9,"v":-10.5},{"s":1,"k":32.3,"v":-8.25},{"s":1,"k":32.7,"v":-9.03},{"s":1,"k":33.1,"v":-8.82},{"s":1,"k":33.5,"v":-8.4},{"s":1,"k":33.9,"v":-10.2},{"s":1,"k":34.3,"v":-8.63},{"s":1,"k":34.7,"v":-9.02},{"s":1,"k":35.1,"v":-8.6},{"s":1,"k":35.5,"v":-9.22},
{"s":1,"k":35.9,"v":-8.78},{"s":1,"k":36.3,"v":-8.93},{"s":1,"k":36.7,"v":-8.85},{"s":1,"k":37.1,"v":-8.94},{"s":1,"k":37.5,"v":-8.87},{"s":1,"k":37.9,"v":-8.93},{"s":1,"k":38.3,"v":-8.88},{"s":1,"k":38.7,"v":-8.94},{"s":1,"k":39.1,"v":-8.89},{"s":1,"k":39.5,"v":-8.93},{"s":1,"k":39.9,"v":-8.9},{"s":1,"k":40,"v":-8.91}
],
"F": [{"k":0,"v":-1.6},{"k":7.2,"v":-5.5}],
"T": [{"k":4.3,"v":-2.14,"t":"Linear Fitting with"},{"k":4.3,"v":-2.88,"t":"l"},{"k":6.3,"v":-2.9,"t":"= -0.55 cm"}],
"TS": [{"k":4.75,"v":-3.25,"t":"D"}]
},
"hconcat": [
{
 "width": 265, "height": 244,
 "title": {"text": "A", "anchor": "start", "frame": "bounds", "offset": -14, "dx": -4},
 "data": {"name": "A"},
 "layer": [
  {"mark": {"type": "line", "strokeWidth": 1},
   "encoding": {
    "x": {"field": "x", "type": "quantitative", "scale": {"domain": [0, 55], "nice": false}, "axis": {"values": [0,10,20,30,40,50], "title": "Position along Perimeter(cm)", "titlePadding": 3}},
    "y": {"field": "y", "type": "quantitative", "scale": {"domain": [0, 30], "nice": false}, "axis": {"values": [0,5,10,15,20,25,30], "title": "Dissolved Part Sᴅ(p,t) (mm²)", "titlePadding": 6}},
    "color": {"field": "s", "type": "nominal", "scale": {"domain": [1,3,5,7], "range": ["#0072BD","#D95319","#EDB120","#7E2F8E"]}, "legend": {"labelExpr": "'t = ' + datum.label + '.0d'", "symbolType": "M-2.2,0H2.2"}}
   }},
  {"mark": {"type": "point", "opacity": 0},
   "encoding": {
    "x": {"field": "x", "type": "quantitative", "axis": {"orient": "top", "labels": false, "values": [0,10,20,30,40,50], "title": "Dissolved Part Evolution", "titleFontSize": 15, "titleFontWeight": "bold", "titleColor": "#000", "titleX": 141.5, "titleY": -5, "titleBaseline": "alphabetic", "titleAlign": "center", "titleAnchor": null}},
    "y": {"field": "y", "type": "quantitative", "axis": {"orient": "right", "labels": false, "values": [0,5,10,15,20,25,30], "title": null}}
   }}
 ],
 "resolve": {"axis": {"x": "independent", "y": "independent"}}
},
{
 "width": 265, "height": 244,
 "title": {"text": "B", "anchor": "start", "frame": "bounds", "offset": -14, "dx": 0},
 "layer": [
  {"data": {"name": "B"},
   "mark": {"type": "line", "strokeWidth": 1},
   "encoding": {
    "x": {"field": "k", "type": "quantitative", "scale": {"domain": [0, 2], "nice": false}, "axis": {"values": [0,0.5,1,1.5,2], "title": "Wavenumber k (cm⁻¹)", "titlePadding": 3}},
    "y": {"field": "v", "type": "quantitative", "scale": {"domain": [0, 1], "nice": false}, "axis": {"values": [0,0.1,0.2,0.3,0.4,0.5,0.6,0.7,0.8,0.9,1], "title": "Normalized Amplitude S(k,t)", "titlePadding": 3}},
    "color": {"field": "s", "type": "nominal", "scale": {"domain": [1,3,5,7,"Peak 1","Peak 2","Peak 3"], "range": ["#0072BD","#D95319","#EDB120","#7E2F8E","#FF0000","#0000FF","#FF0000"]}, "legend": {"labelExpr": "isString(datum.value) ? datum.value : 't = ' + datum.value + '.0d'"}}
   }},
  {"data": {"name": "P"},
   "mark": {"type": "point", "filled": false, "strokeWidth": 1, "size": 144, "opacity": 1},
   "encoding": {
    "x": {"field": "k", "type": "quantitative", "axis": {"orient": "top", "labels": false, "values": [0,0.5,1,1.5,2], "title": "Power Spectrum Evolution", "titleFontSize": 15, "titleFontWeight": "bold", "titleColor": "#000", "titleX": 141.5, "titleY": -5, "titleBaseline": "alphabetic", "titleAlign": "center", "titleAnchor": null}},
    "y": {"field": "v", "type": "quantitative", "axis": {"orient": "right", "labels": false, "values": [0,0.1,0.2,0.3,0.4,0.5,0.6,0.7,0.8,0.9,1], "title": null}},
    "color": {"field": "s", "type": "nominal"},
    "shape": {"field": "s", "type": "nominal", "scale": {"domain": [1,3,5,7,"Peak 1","Peak 2","Peak 3"], "range": ["M-2.2,0H2.2","M-2.2,0H2.2","M-2.2,0H2.2","M-2.2,0H2.2","M0.6,0A0.6,0.6,0,1,1,-0.6,0A0.6,0.6,0,1,1,0.6,0Z","M0.6,0A0.6,0.6,0,1,1,-0.6,0A0.6,0.6,0,1,1,0.6,0Z","M-0.6,0H0.6M0,-0.6V0.6M-0.42,-0.42L0.42,0.42M-0.42,0.42L0.42,-0.42"]}, "legend": {"labelExpr": "isString(datum.value) ? datum.value : 't = ' + datum.value + '.0d'"}}
   }}
 ],
 "resolve": {"axis": {"x": "independent", "y": "independent"}}
},
{
 "width": 265, "height": 244,
 "title": {"text": "C", "anchor": "start", "frame": "bounds", "offset": -14, "dx": 0},
 "layer": [
  {"data": {"name": "C"},
   "mark": {"type": "line", "strokeWidth": 1.1, "opacity": 0.92},
   "encoding": {
    "x": {"field": "k", "type": "quantitative", "scale": {"domain": [0, 40], "nice": false}, "axis": {"values": [0,5,10,15,20,25,30,35,40], "title": "Wavenumber k (cm⁻¹)", "titlePadding": 3}},
    "y": {"field": "v", "type": "quantitative", "scale": {"domain": [-12, 0], "nice": false}, "axis": {"values": [-12,-10,-8,-6,-4,-2,0], "title": "log₁₀ S(k,t)", "titlePadding": 8}},
    "color": {"field": "s", "type": "nominal", "scale": {"domain": [1,3,5,7], "range": ["#0072BD","#D95319","#EDB120","#7E2F8E"]}, "legend": {"labelExpr": "'t = ' + datum.label + '.0d'", "symbolType": "M-2.2,0H2.2"}}
   }},
  {"data": {"name": "F"},
   "mark": {"type": "line", "strokeWidth": 2, "color": "#000"},
   "encoding": {
    "x": {"field": "k", "type": "quantitative", "axis": {"orient": "top", "labels": false, "values": [0,5,10,15,20,25,30,35,40], "title": "Semi-log Power Spectrum", "titleFontSize": 15, "titleFontWeight": "bold", "titleColor": "#000", "titleX": 141.5, "titleY": -5, "titleBaseline": "alphabetic", "titleAlign": "center", "titleAnchor": null}},
    "y": {"field": "v", "type": "quantitative", "axis": {"orient": "right", "labels": false, "values": [-12,-10,-8,-6,-4,-2,0], "title": null}}
   }},
  {"data": {"name": "T"},
   "mark": {"type": "text", "align": "left", "baseline": "middle", "fontSize": 12, "color": "#000"},
   "encoding": {
    "x": {"field": "k", "type": "quantitative", "axis": null},
    "y": {"field": "v", "type": "quantitative", "axis": null},
    "text": {"field": "t"}
   }},
  {"data": {"name": "TS"},
   "mark": {"type": "text", "align": "left", "baseline": "middle", "fontSize": 9, "color": "#000"},
   "encoding": {
    "x": {"field": "k", "type": "quantitative", "axis": null},
    "y": {"field": "v", "type": "quantitative", "axis": null},
    "text": {"field": "t"}
   }}
 ],
 "resolve": {"axis": {"x": "independent", "y": "independent"}}
}
],
"spacing": 58,
"bounds": "flush",
"resolve": {"scale": {"color": "independent", "shape": "independent"}, "legend": {"color": "independent", "shape": "independent"}}
}
